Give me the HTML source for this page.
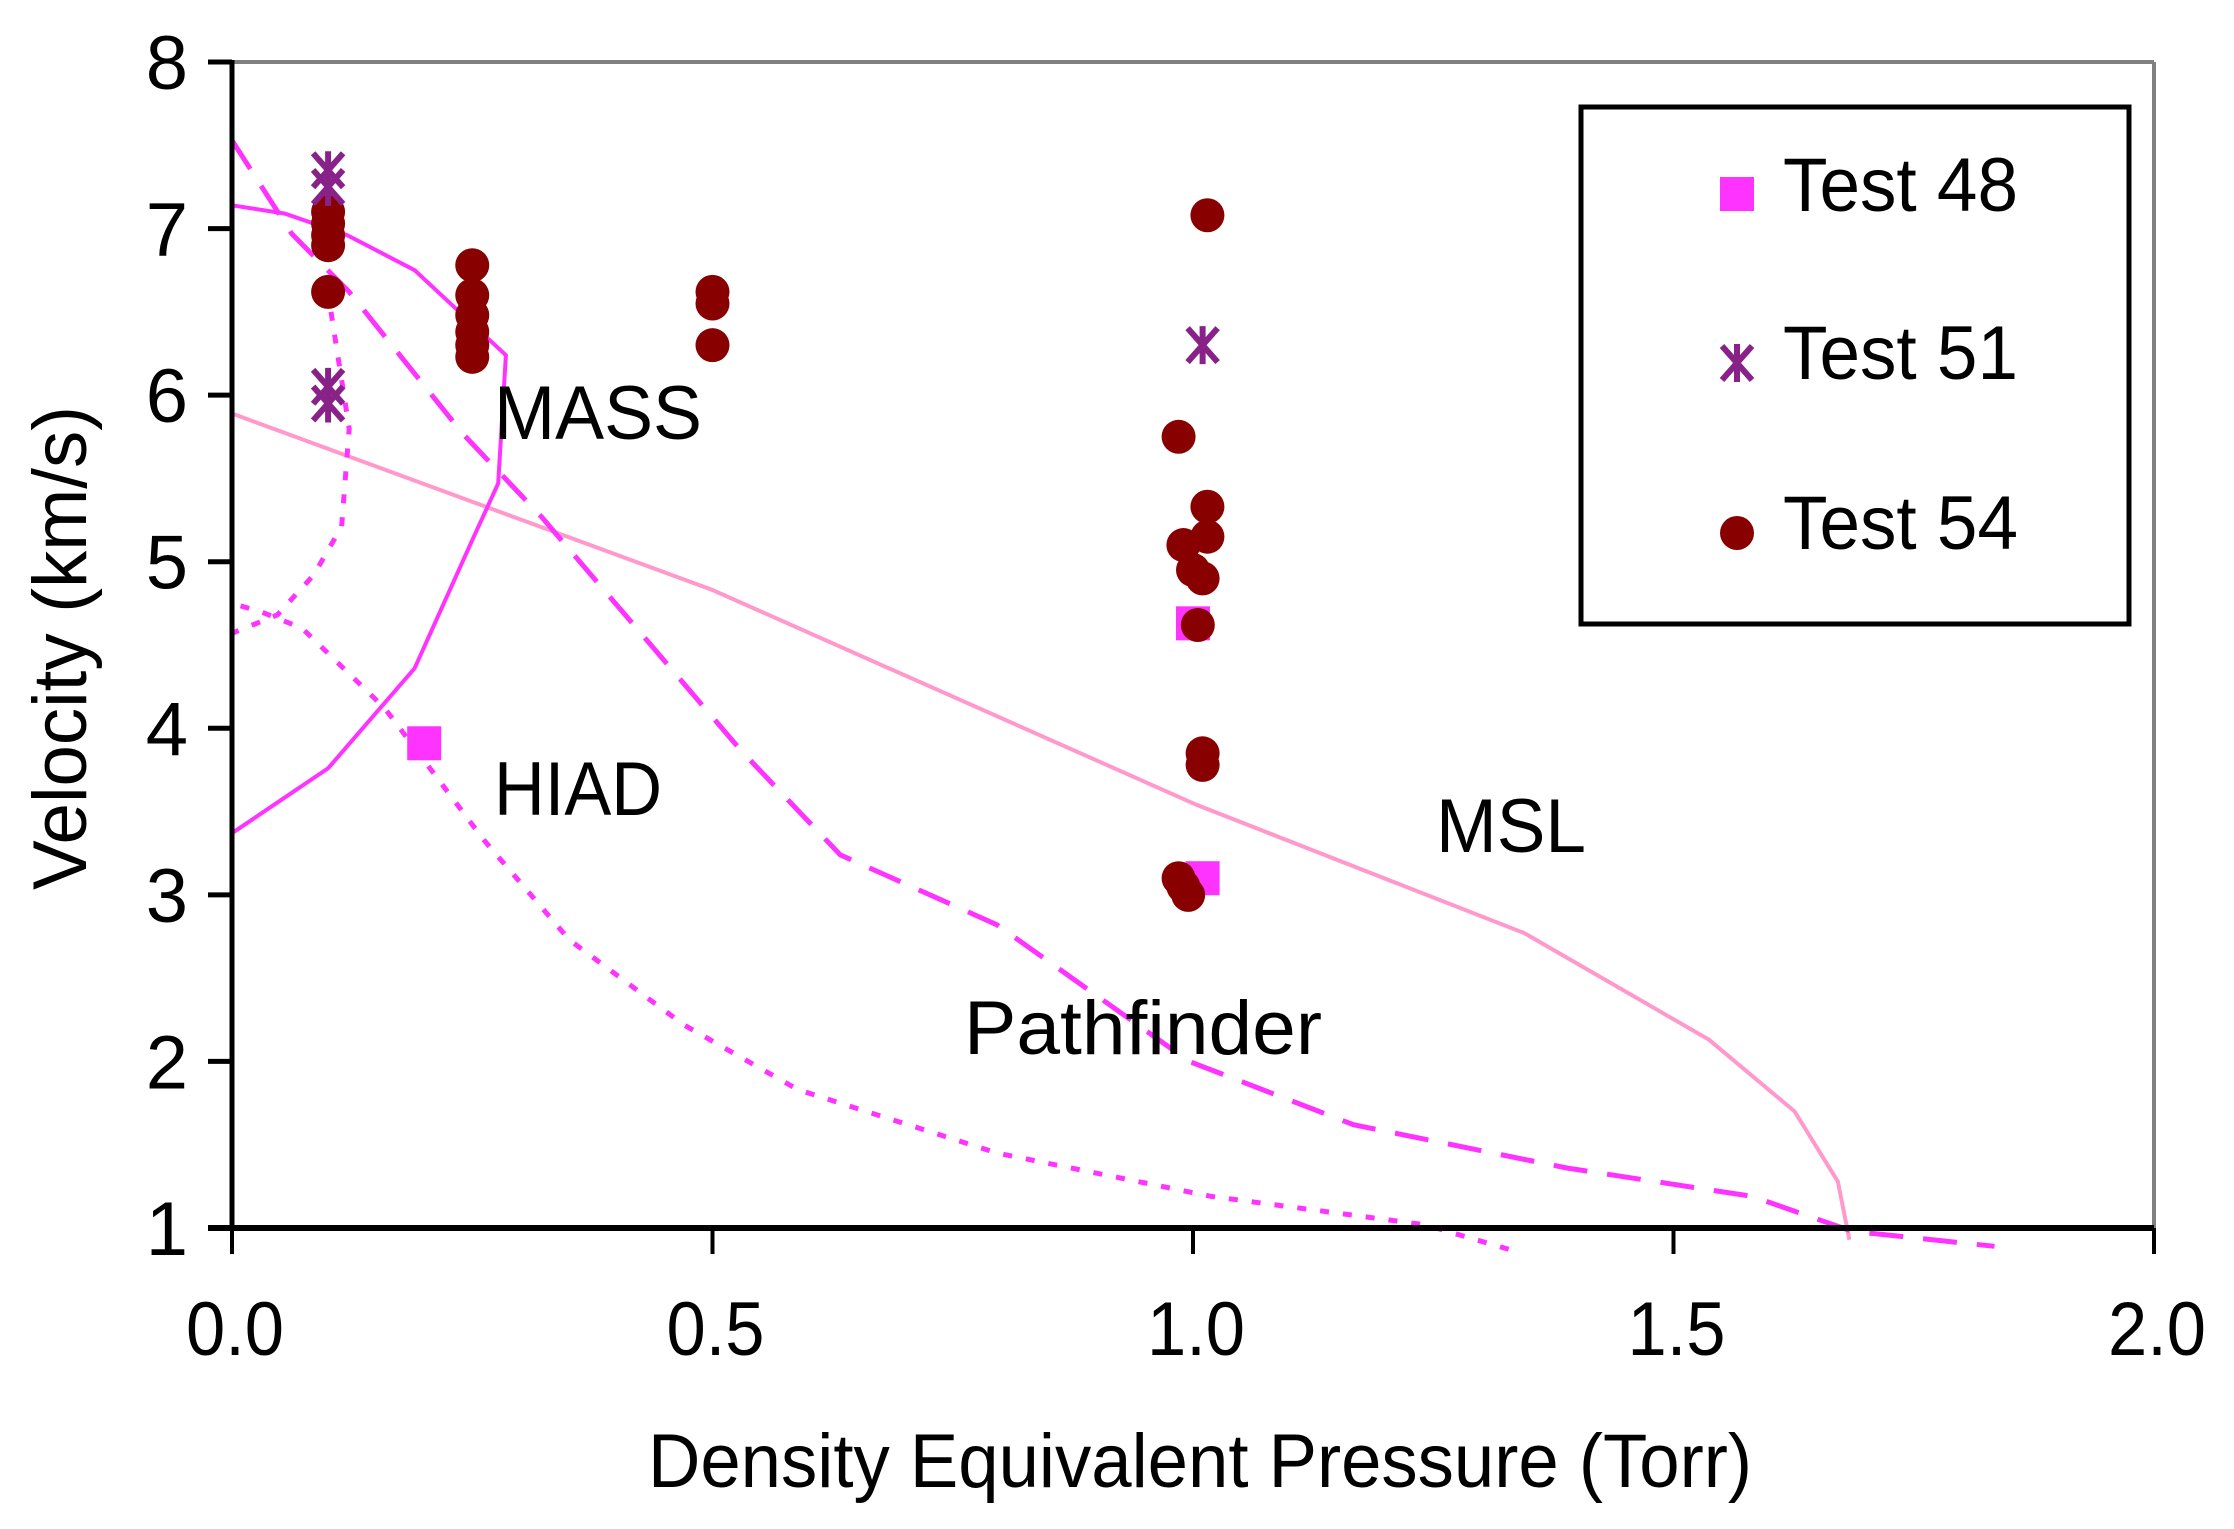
<!DOCTYPE html>
<html><head><meta charset="utf-8"><style>
html,body{margin:0;padding:0;background:#fff;}
svg{display:block;font-family:"Liberation Sans",Arial,sans-serif;}
</style></head><body>
<svg id="chart" width="2234" height="1529" viewBox="0 0 2234 1529" xmlns="http://www.w3.org/2000/svg">
<rect width="2234" height="1529" fill="#fff"/>
<g id="plot"></g>
<g id="axes"></g>
<text transform="translate(86,648) rotate(-90)" text-anchor="middle" font-size="76" textLength="484" lengthAdjust="spacingAndGlyphs">Velocity (km/s)</text>
<text x="648" y="1487" font-size="76" textLength="1104" lengthAdjust="spacingAndGlyphs">Density Equivalent Pressure (Torr)</text>
<text x="494" y="439" font-size="76" textLength="208" lengthAdjust="spacingAndGlyphs">MASS</text>
<text x="494" y="815" font-size="76" textLength="168" lengthAdjust="spacingAndGlyphs">HIAD</text>
<text x="1436" y="852" font-size="76" textLength="150" lengthAdjust="spacingAndGlyphs">MSL</text>
<text x="964" y="1054" font-size="76" textLength="358" lengthAdjust="spacingAndGlyphs">Pathfinder</text>
<g>
<rect x="1581" y="107" width="548" height="517" fill="#fff" stroke="#000" stroke-width="5"/>
<rect x="1720" y="177" width="34" height="34" fill="#ff33ff"/>
<text x="1783" y="211" font-size="76" textLength="235" lengthAdjust="spacingAndGlyphs">Test 48</text>
<g stroke="#882288" stroke-width="6"><line x1="1722" y1="346" x2="1752" y2="380"/><line x1="1722" y1="380" x2="1752" y2="346"/><line x1="1737" y1="344" x2="1737" y2="382"/></g>
<text x="1783" y="379" font-size="76" textLength="235" lengthAdjust="spacingAndGlyphs">Test 51</text>
<circle cx="1737" cy="533" r="17" fill="#880000"/>
<text x="1783" y="549" font-size="76" textLength="235" lengthAdjust="spacingAndGlyphs">Test 54</text>
</g>
</svg>
<script>
const NS='http://www.w3.org/2000/svg';
const xTicks=[0.0,0.5,1.0,1.5,2.0];
const xTickLabels=['0.0','0.5','1.0','1.5','2.0'];
const yTicks=[1,2,3,4,5,6,7,8];
const yTickLabels=['1','2','3','4','5','6','7','8'];
const mslX=[0,0.5,1.004,1.345,1.537,1.626,1.671,1.683];
const mslY=[5.89,4.83,3.54,2.77,2.13,1.70,1.28,0.93];
const massX=[0,0.1,0.19,0.25,0.277,0.285,0.27,0.19,0.12,0.055,0];
const massY=[3.37,3.76,4.36,5.13,5.47,6.24,6.32,6.75,6.96,7.09,7.14];
const pathX=[0,0.062,0.122,0.24,0.322,0.529,0.633,0.796,0.996,1.167,1.389,1.582,1.686,1.834];
const pathY=[7.53,6.97,6.62,5.77,5.27,3.87,3.24,2.82,2.0,1.62,1.36,1.19,0.98,0.89];
const hiadX=[0.103,0.122,0.114,0.085,0.047,0.0,0.0,0.03,0.073,0.159,0.262,0.351,0.47,0.589,0.796,1.019,1.241,1.33];
const hiadY=[6.50,5.80,5.21,4.92,4.68,4.57,4.75,4.70,4.60,4.12,3.33,2.73,2.22,1.83,1.45,1.19,1.02,0.87];
const t48X=[0.2,1.0,1.01];
const t48Y=[3.91,4.63,3.1];
const t51X=[0.1,0.1,0.1,0.1,1.01];
const t51Y=[7.35,7.25,6.05,5.95,6.3];
const t54X=[0.1,0.1,0.1,0.1,0.1,0.25,0.25,0.25,0.25,0.25,0.25,0.5,0.5,0.5,1.015,0.985,1.015,1.015,0.99,1.0,1.01,1.005,1.01,1.01,0.985,0.99,0.995];
const t54Y=[7.1,7.03,6.96,6.9,6.62,6.78,6.6,6.48,6.38,6.3,6.23,6.62,6.55,6.3,7.08,5.75,5.33,5.15,5.1,4.95,4.9,4.62,3.85,3.78,3.1,3.05,3.0];

const X0=232,X1=2154,Y0=1228,Y1=62;
const sx=v=>X0+(v-0)/(2-0)*(X1-X0);
const sy=v=>Y0-(v-1)/(8-1)*(Y0-Y1);
const plot=document.getElementById('plot');
const axes=document.getElementById('axes');
function mk(tag,parent){const e=document.createElementNS(NS,tag);parent.appendChild(e);return e;}
function line(xs,ys,name,color,w,dash){
  const p=mk('path',plot);
  
  
  p.setAttribute('d',xs.map((x,i)=>(i?'L':'M')+sx(x).toFixed(1)+','+sy(ys[i]).toFixed(1)).join(''));
  p.setAttribute('fill','none');p.setAttribute('stroke',color);p.setAttribute('stroke-width',w);
  if(dash)p.setAttribute('stroke-dasharray',dash);
}
line(mslX,mslY,'msl-curve','#ff99cc',4,null);
line(massX,massY,'mass-curve','#ff33ff',4,null);
line(pathX,pathY,'pathfinder-curve','#ff33ff',5,'34 20');
line(hiadX,hiadY,'hiad-curve','#ff33ff',5,'9 14');
t48X.forEach((x,i)=>{
  const r=mk('rect',plot);
  
  
  r.setAttribute('x',sx(x)-17);r.setAttribute('y',sy(t48Y[i])-17);r.setAttribute('width',34);r.setAttribute('height',34);r.setAttribute('fill','#ff33ff');
});
t54X.forEach((x,i)=>{
  const c=mk('circle',plot);
  
  
  c.setAttribute('cx',sx(x));c.setAttribute('cy',sy(t54Y[i]));c.setAttribute('r',17);c.setAttribute('fill','#880000');
});
t51X.forEach((x,i)=>{
  const g=mk('g',plot);
  
  
  const cx=sx(x),cy=sy(t51Y[i]);
  g.setAttribute('stroke','#882288');g.setAttribute('stroke-width',6);
  [[-15,-17,15,17],[-15,17,15,-17],[0,-19,0,19]].forEach(s=>{const l=mk('line',g);l.setAttribute('x1',cx+s[0]);l.setAttribute('y1',cy+s[1]);l.setAttribute('x2',cx+s[2]);l.setAttribute('y2',cy+s[3]);});
});
function ax(x1,y1,x2,y2,c,w,name){const l=mk('line',axes);
  
  
  l.setAttribute('x1',x1);l.setAttribute('y1',y1);l.setAttribute('x2',x2);l.setAttribute('y2',y2);l.setAttribute('stroke',c);l.setAttribute('stroke-width',w);}
ax(X0,Y1,X1,Y1,'#808080',4,'top-border');
ax(X1,Y1,X1,Y0,'#808080',4,'right-border');
ax(X0,Y1-2,X0,Y0+2,'#000',5,'y-axis-line');
ax(X0-24,Y0,X1,Y0,'#000',6,'x-axis-line');
yTicks.forEach((v,i)=>{
  ax(X0-24,sy(v),X0,sy(v),'#000',5,'y-tick');
  const t=mk('text',axes);
  
  
  t.setAttribute('x',188);t.setAttribute('y',sy(v)+27);t.setAttribute('text-anchor','end');t.setAttribute('font-size',76);
  t.textContent=yTickLabels[i];
});
xTicks.forEach((v,i)=>{
  ax(sx(v),Y0,sx(v),Y0+26,'#000',4,'x-tick');
  const t=mk('text',axes);
  
  
  t.setAttribute('x',sx(v)+3);t.setAttribute('y',1355);t.setAttribute('text-anchor','middle');t.setAttribute('font-size',76);
  t.setAttribute('textLength',98);t.setAttribute('lengthAdjust','spacingAndGlyphs');
  t.textContent=xTickLabels[i];
});
</script>
</body></html>
